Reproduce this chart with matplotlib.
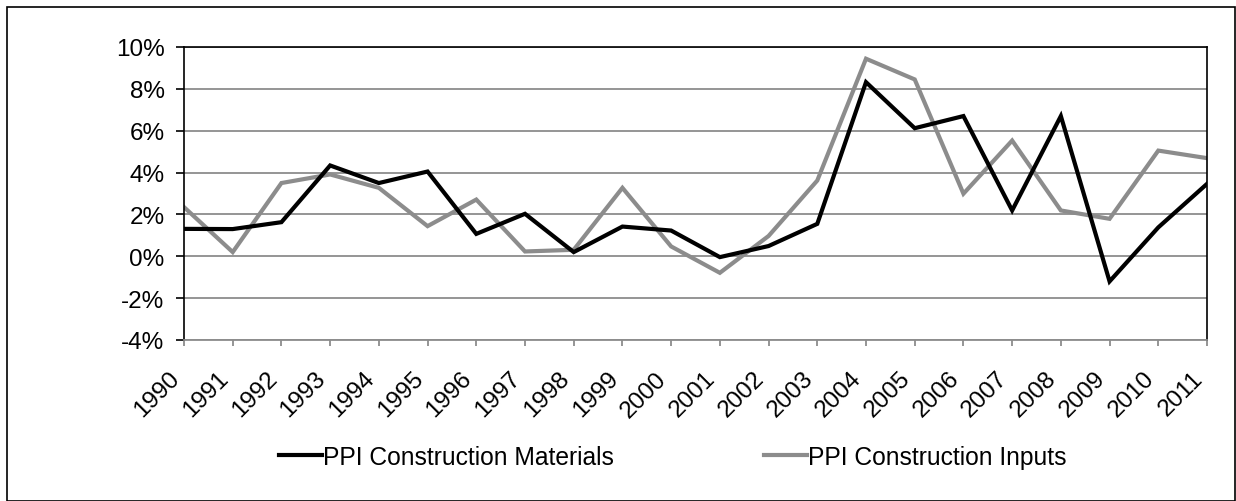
import matplotlib
matplotlib.use("Agg")
import matplotlib.pyplot as plt
from matplotlib.patches import Rectangle
from matplotlib.ticker import FuncFormatter
from matplotlib.transforms import ScaledTranslation

years = [str(y) for y in range(1990, 2012)]

# annual % change
materials = [1.31, 1.30, 1.63, 4.34, 3.50, 4.05, 1.07, 2.03, 0.20, 1.42, 1.23, -0.04,
             0.49, 1.55, 8.32, 6.12, 6.70, 2.19, 6.70, -1.20, 1.38, 3.46]
inputs = [2.35, 0.20, 3.50, 3.91, 3.27, 1.44, 2.71, 0.23, 0.31, 3.27, 0.47, -0.79,
          0.97, 3.62, 9.44, 8.45, 2.99, 5.53, 2.19, 1.79, 5.05, 4.69]

plt.rcParams['font.family'] = ['Liberation Sans', 'DejaVu Sans']

W, H = 1236, 502
fig = plt.figure(figsize=(W / 100, H / 100), dpi=100)
ax = fig.add_axes([184 / W, 1 - 341 / H, (1207 - 184) / W, (341 - 48) / H])

grey = '#8c8c8c'
x = list(range(len(years)))
ax.plot(x, [v / 100 for v in materials], color='black', lw=3.0,
        label='PPI Construction Materials', solid_joinstyle='miter', zorder=3)
ax.plot(x, [v / 100 for v in inputs], color=grey, lw=3.0,
        label='PPI Construction Inputs', solid_joinstyle='miter', zorder=2)

ax.set_xlim(0, len(years) - 1)
ax.set_ylim(-0.04, 0.10)
ax.set_yticks([-0.04, -0.02, 0, 0.02, 0.04, 0.06, 0.08, 0.10])
ax.yaxis.set_major_formatter(FuncFormatter(lambda v, p: f"{v * 100:.0f}%"))
ax.set_xticks(x)
ax.set_xticklabels(years, rotation=45, ha='right')
shift = ScaledTranslation(5 / 100, 0, fig.dpi_scale_trans)
for lbl in ax.get_xticklabels():
    lbl.set_transform(lbl.get_transform() + shift)

ax.yaxis.grid(True, color=grey, lw=1.3)
ax.set_axisbelow(True)
for s in ['left', 'top', 'right']:
    ax.spines[s].set_color('black')
    ax.spines[s].set_linewidth(1.2)
ax.spines['bottom'].set_color(grey)
ax.spines['bottom'].set_linewidth(1.3)

ax.tick_params(axis='y', length=6, width=1.2, color='black', pad=8, labelsize=17.5)
ax.tick_params(axis='x', length=4.5, width=1.3, color=grey, pad=15, labelsize=17.5)

fig.legend(loc='center left', bbox_to_anchor=(279 / W, 1 - 458 / H), ncol=2,
           frameon=False, fontsize=17.7, handlelength=1.75, handletextpad=0.05,
           columnspacing=6.1, borderpad=0, borderaxespad=0)

fig.patches.append(Rectangle((7 / W, 0.5 / H), (1235 - 7) / W, (494 - 0.5) / H,
                             transform=fig.transFigure, fill=False,
                             edgecolor='black', lw=1.2))

fig.savefig('out.png', dpi=100)
